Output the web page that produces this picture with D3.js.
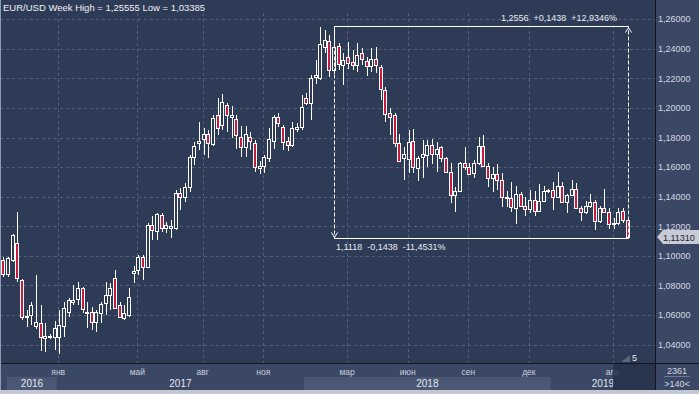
<!DOCTYPE html>
<html>
<head>
<meta charset="utf-8">
<script src="https://cdn.jsdelivr.net/npm/d3@7"></script>
<style>
body { margin: 0; background: #2e3b57; }
svg { display: block; }
text { font-family: "Liberation Sans", Arial, sans-serif; }
</style>
</head>
<body>
<svg id="chart" width="699" height="394"></svg>
<script>
// EUR/USD weekly bars, Oct 2016 .. Apr 2019
var opens = [1.0972,1.0875,1.0975,1.1084,1.0836,1.0586,1.0600,1.0528,1.0544,1.0443,1.0452,1.0454,1.0454,1.0528,1.0623,1.0690,1.0706,1.0780,1.0611,1.0618,
  1.0555,1.0611,1.0679,1.0735,1.0848,1.0668,1.0578,1.0600,1.0882,1.0904,1.0990,1.0922,1.1208,1.1170,1.1276,1.1190,1.1190,1.1190,1.1422,1.1395,
  1.1463,1.1665,1.1760,1.1787,1.1821,1.1755,1.1951,1.1884,1.2019,1.1940,1.1922,1.1805,1.1735,1.1805,1.1760,1.1595,1.1607,1.1660,1.1775,1.1936,
  1.1868,1.1776,1.1750,1.1855,1.1868,1.2064,1.2030,1.2206,1.2199,1.2413,1.2450,1.2255,1.2418,1.2289,1.2346,1.2312,1.2289,1.2368,1.2319,1.2280,
  1.2328,1.2278,1.2120,1.1963,1.1951,1.1764,1.1659,1.1652,1.1776,1.1591,1.1670,1.1681,1.1749,1.1686,1.1733,1.1659,1.1564,1.1411,1.1440,1.1625,
  1.1598,1.1557,1.1625,1.1742,1.1607,1.1524,1.1553,1.1512,1.1400,1.1388,1.1321,1.1418,1.1337,1.1314,1.1377,1.1305,1.1370,1.1440,1.1445,1.1395,
  1.1470,1.1365,1.1410,1.1455,1.1325,1.1295,1.1335,1.1365,1.1235,1.1325,1.1300,1.1215,1.1220,1.1305,1.1242];
var highs = [1.0990,1.0990,1.1145,1.1298,1.0845,1.0634,1.0690,1.0870,1.0668,1.0544,1.0470,1.0560,1.0634,1.0690,1.0713,1.0800,1.0825,1.0791,1.0690,1.0656,
  1.0634,1.0690,1.0825,1.0814,1.0904,1.0690,1.0668,1.0780,1.0931,1.1005,1.1005,1.1220,1.1268,1.1287,1.1287,1.1231,1.1242,1.1445,1.1456,1.1490,
  1.1681,1.1771,1.1906,1.1861,1.1850,1.1951,1.2070,1.2092,1.2030,1.2010,1.1951,1.1880,1.1880,1.1839,1.1782,1.1640,1.1681,1.1861,1.1951,1.1963,
  1.1884,1.1801,1.1906,1.1895,1.2090,1.2098,1.2222,1.2323,1.2544,1.2526,1.2490,1.2556,1.2436,1.2368,1.2446,1.2390,1.2436,1.2402,1.2346,1.2402,
  1.2413,1.2289,1.2143,1.1996,1.1963,1.1827,1.1737,1.1850,1.1855,1.1674,1.1782,1.1782,1.1787,1.1771,1.1742,1.1670,1.1625,1.1467,1.1636,1.1733,
  1.1625,1.1648,1.1805,1.1816,1.1625,1.1602,1.1620,1.1557,1.1440,1.1500,1.1470,1.1433,1.1400,1.1445,1.1440,1.1485,1.1475,1.1455,1.1500,1.1570,
  1.1500,1.1420,1.1515,1.1490,1.1340,1.1370,1.1420,1.1380,1.1340,1.1450,1.1325,1.1255,1.1325,1.1325,1.1265];
var lows = [1.0860,1.0860,1.0960,1.0825,1.0566,1.0520,1.0530,1.0505,1.0360,1.0350,1.0436,1.0364,1.0339,1.0454,1.0589,1.0668,1.0668,1.0611,1.0510,1.0499,
  1.0487,1.0544,1.0600,1.0634,1.0645,1.0578,1.0566,1.0589,1.0814,1.0870,1.0836,1.0915,1.1110,1.1107,1.1163,1.1152,1.1118,1.1174,1.1309,1.1366,
  1.1433,1.1614,1.1715,1.1681,1.1659,1.1742,1.1816,1.1850,1.1839,1.1800,1.1720,1.1665,1.1670,1.1715,1.1570,1.1555,1.1557,1.1636,1.1720,1.1872,
  1.1715,1.1711,1.1733,1.1840,1.1850,1.2019,1.1920,1.2160,1.2188,1.2368,1.2210,1.2230,1.2255,1.2154,1.2266,1.2255,1.2244,1.2289,1.2215,1.2244,
  1.2233,1.2053,1.1906,1.1816,1.1737,1.1640,1.1512,1.1557,1.1557,1.1508,1.1524,1.1602,1.1620,1.1569,1.1636,1.1557,1.1355,1.1298,1.1433,1.1580,
  1.1546,1.1524,1.1613,1.1602,1.1463,1.1430,1.1443,1.1332,1.1332,1.1298,1.1218,1.1330,1.1267,1.1290,1.1270,1.1295,1.1365,1.1425,1.1310,1.1390,
  1.1355,1.1290,1.1405,1.1320,1.1235,1.1280,1.1325,1.1175,1.1220,1.1290,1.1180,1.1185,1.1210,1.1225,1.1118];
var closes = [1.0878,1.0983,1.1141,1.0848,1.0589,1.0592,1.0668,1.0555,1.0449,1.0459,1.0456,1.0510,1.0532,1.0645,1.0701,1.0701,1.0780,1.0639,1.0623,1.0555,
  1.0618,1.0674,1.0735,1.0780,1.0649,1.0584,1.0611,1.0719,1.0899,1.0994,1.0922,1.1208,1.1174,1.1280,1.1190,1.1208,1.1204,1.1422,1.1400,1.1463,
  1.1665,1.1744,1.1776,1.1821,1.1760,1.1929,1.1861,1.2041,1.1951,1.1951,1.1816,1.1733,1.1823,1.1778,1.1602,1.1607,1.1665,1.1787,1.1936,1.1895,
  1.1771,1.1750,1.1861,1.1868,1.2003,1.2030,1.2199,1.2222,1.2431,1.2458,1.2255,1.2409,1.2300,1.2323,1.2305,1.2289,1.2357,1.2328,1.2282,1.2328,
  1.2289,1.2131,1.1958,1.1940,1.1764,1.1643,1.1686,1.1771,1.1602,1.1659,1.1686,1.1749,1.1686,1.1719,1.1659,1.1564,1.1411,1.1440,1.1625,1.1602,
  1.1553,1.1625,1.1742,1.1607,1.1524,1.1553,1.1512,1.1400,1.1388,1.1332,1.1418,1.1337,1.1314,1.1377,1.1305,1.1370,1.1440,1.1445,1.1395,1.1470,
  1.1365,1.1410,1.1455,1.1325,1.1295,1.1335,1.1365,1.1235,1.1325,1.1300,1.1215,1.1220,1.1300,1.1245,1.1131];

// time axis: month labels with the bar where each month starts
var monthLabels = ["янв", "май", "авг", "ноя", "мар", "июн", "сен", "дек", "апр"];
var monthBars = [12, 29, 43, 56, 74, 87, 100, 113, 131];
var years = ["2016", "2017", "2018", "2019"];
var yearBars = [0, 12, 65, 118];

var priceTicks = [1.04, 1.06, 1.08, 1.10, 1.12, 1.14, 1.16, 1.18, 1.20, 1.22, 1.24, 1.26];

// range measure drawn on the chart
var measureFrom = 71, measureTo = 134;
var measureHigh = 1.2556, measureLow = 1.1118;
var topNote = "1,2556  +0,1438  +12,9346%";
var bottomNote = "1,1118  -0,1438  -11,4531%";
var lastPrice = 1.11310;

var W = 699, H = 394;
var plotRight = 655, plotBottom = 363;
var bg = "#2e3b57", axisBg = "#3a4765", bandBg = "#4a5775";
var red = "#c41c3c";

var svg = d3.select("#chart");
var comma = function(s) { return s.replace(".", ","); };

var x = d3.scaleLinear().domain([0, opens.length - 1]).range([3.3, 627.7]);
var y = d3.scaleLinear().domain([1.04, 1.26]).range([344.7, 19.1]);

svg.append("rect").attr("width", W).attr("height", H).attr("fill", bg);

// panels
svg.append("rect").attr("x", plotRight + 1).attr("y", 0).attr("width", W - plotRight).attr("height", H).attr("fill", axisBg);
svg.append("rect").attr("x", 0).attr("y", plotBottom + 1).attr("width", W).attr("height", H - plotBottom).attr("fill", axisBg);

// grid
var grid = svg.append("g").attr("stroke", "#52607e").attr("stroke-dasharray", "3,3").attr("shape-rendering", "crispEdges");
priceTicks.forEach(function(p) {
    var yy = Math.round(y(p)) + 0.5;
    grid.append("line").attr("x1", 0).attr("x2", plotRight).attr("y1", yy).attr("y2", yy);
});
monthBars.forEach(function(b) {
    var xx = Math.round(x(b) - 1) + 0.5;
    grid.append("line").attr("x1", xx).attr("x2", xx).attr("y1", 13).attr("y2", plotBottom);
});

// candles: white outline, red body when falling, hollow when rising
var bars = d3.range(opens.length);
var candles = svg.append("g").attr("shape-rendering", "crispEdges");
bars.forEach(function(i) {
    var cx = Math.round(x(i));
    var top = Math.max(opens[i], closes[i]), bot = Math.min(opens[i], closes[i]);
    var yt = Math.round(y(top)), yb = Math.round(y(bot));
    if (yb - yt < 1) yb = yt + 1;
    candles.append("line")
        .attr("x1", cx + 0.5).attr("x2", cx + 0.5)
        .attr("y1", Math.round(y(highs[i]))).attr("y2", Math.round(y(lows[i])))
        .attr("stroke", "#ffffff");
    candles.append("rect")
        .attr("x", cx - 1.5).attr("y", yt + 0.5)
        .attr("width", 3).attr("height", yb - yt)
        .attr("fill", closes[i] < opens[i] ? red : bg)
        .attr("stroke", "#ffffff");
});

// measure box
var xa = x(measureFrom), xb = x(measureTo);
var ya = Math.round(y(measureHigh)) + 0.5, yl = Math.round(y(measureLow)) + 0.5;
var m = svg.append("g").attr("stroke", "#ffffff").attr("fill", "none");
m.append("line").attr("x1", xa).attr("x2", xb + 1).attr("y1", ya).attr("y2", ya);
m.append("line").attr("x1", xa).attr("x2", xb + 1).attr("y1", yl).attr("y2", yl);
m.append("line").attr("x1", Math.round(xa) + 0.5).attr("x2", Math.round(xa) + 0.5).attr("y1", ya).attr("y2", yl).attr("stroke-dasharray", "4,2");
m.append("line").attr("x1", Math.round(xb) + 0.5).attr("x2", Math.round(xb) + 0.5).attr("y1", yl).attr("y2", ya).attr("stroke-dasharray", "4,2");
m.append("path").attr("d", "M" + (Math.round(xa) - 2.5) + "," + (yl - 6) + "L" + (Math.round(xa) + 0.5) + "," + (yl - 1) + "L" + (Math.round(xa) + 3.5) + "," + (yl - 6));
m.append("path").attr("d", "M" + (Math.round(xb) - 2.5) + "," + (ya + 6) + "L" + (Math.round(xb) + 0.5) + "," + (ya + 1) + "L" + (Math.round(xb) + 3.5) + "," + (ya + 6));

svg.append("text").attr("x", 617).attr("y", ya - 5.5).attr("text-anchor", "end")
    .attr("fill", "#e8eaef").attr("font-size", 9).style("white-space", "pre").text(topNote);
svg.append("text").attr("x", 336).attr("y", yl + 11.5)
    .attr("fill", "#e8eaef").attr("font-size", 9).style("white-space", "pre").text(bottomNote);

// title
svg.append("text").attr("x", 3).attr("y", 11).attr("fill", "#eef0f4").attr("font-size", 9.5)
    .text("EUR/USD Week High = 1,25555 Low = 1,03385");

// separators
svg.append("line").attr("x1", plotRight + 0.5).attr("x2", plotRight + 0.5).attr("y1", 0).attr("y2", 391)
    .attr("stroke", "#10151f");
svg.append("line").attr("x1", 0).attr("x2", W).attr("y1", plotBottom + 0.5).attr("y2", plotBottom + 0.5)
    .attr("stroke", "#10151f");

// price axis
var yAxis = d3.axisRight(y).tickValues(priceTicks).tickSize(0).tickPadding(0)
    .tickFormat(function(d) { return comma(d3.format(".5f")(d)); });
var yg = svg.append("g").attr("transform", "translate(658,0)").call(yAxis);
yg.select(".domain").remove();
yg.selectAll("text").attr("fill", "#d4d8e0").attr("font-size", 9).attr("font-family", "Liberation Sans, Arial, sans-serif");

// last price marker
var yp = y(lastPrice) + 0.5;
svg.append("path")
    .attr("d", "M657," + yp + "L663," + (yp - 7) + "L699," + (yp - 7) + "L699," + (yp + 7) + "L663," + (yp + 7) + "Z")
    .attr("fill", "#c6cbd5");
svg.append("text").attr("x", 663).attr("y", yp + 3.5).attr("fill", "#1e2534").attr("font-size", 9)
    .text(comma(d3.format(".5f")(lastPrice)));

// time axis: year bands and month labels
var yearEdge = function(k) { return k === 0 ? 7 : x(yearBars[k]) - 2.3; };
years.forEach(function(yr, k) {
    var x0 = yearEdge(k), x1 = k < years.length - 1 ? yearEdge(k + 1) : plotRight;
    svg.append("rect").attr("x", x0).attr("y", 377).attr("width", x1 - x0).attr("height", 13)
        .attr("fill", k % 2 === 0 ? bandBg : axisBg);
    svg.append("text").attr("x", (x0 + x1) / 2).attr("y", 387).attr("text-anchor", "middle")
        .attr("fill", "#e4e7ee").attr("font-size", 10).text(yr);
});
monthLabels.forEach(function(lb, k) {
    svg.append("text").attr("x", x(monthBars[k]) - 1).attr("y", 375).attr("text-anchor", "middle")
        .attr("fill", "#c9cfdb").attr("font-size", 8.5).text(lb);
});

// scroll marker area
svg.append("rect").attr("x", 613).attr("y", plotBottom + 1).attr("width", plotRight - 613).attr("height", 26)
    .attr("fill", "#27324b").attr("opacity", 0.85);
svg.append("path").attr("d", "M621,362L630,362L630,355Z").attr("fill", "#5a6680");
svg.append("text").attr("x", 632).attr("y", 361).attr("fill", "#e8eaef").attr("font-size", 9).text("5");

// corner box
svg.append("line").attr("x1", 664).attr("x2", 690).attr("y1", 376.5).attr("y2", 376.5).attr("stroke", "#6c7894");
svg.append("text").attr("x", 677).attr("y", 374).attr("text-anchor", "middle").attr("fill", "#d4d8e0").attr("font-size", 9).text("2361");
svg.append("text").attr("x", 677).attr("y", 387).attr("text-anchor", "middle").attr("fill", "#d4d8e0").attr("font-size", 9).text(">140<");

// bottom strip and left edge
svg.append("rect").attr("x", 0).attr("y", 390).attr("width", W).attr("height", 4).attr("fill", "#c3c7cf");
svg.append("rect").attr("x", 0).attr("y", 0).attr("width", 1).attr("height", 390).attr("fill", "#8f9ab0");
</script>
</body>
</html>
